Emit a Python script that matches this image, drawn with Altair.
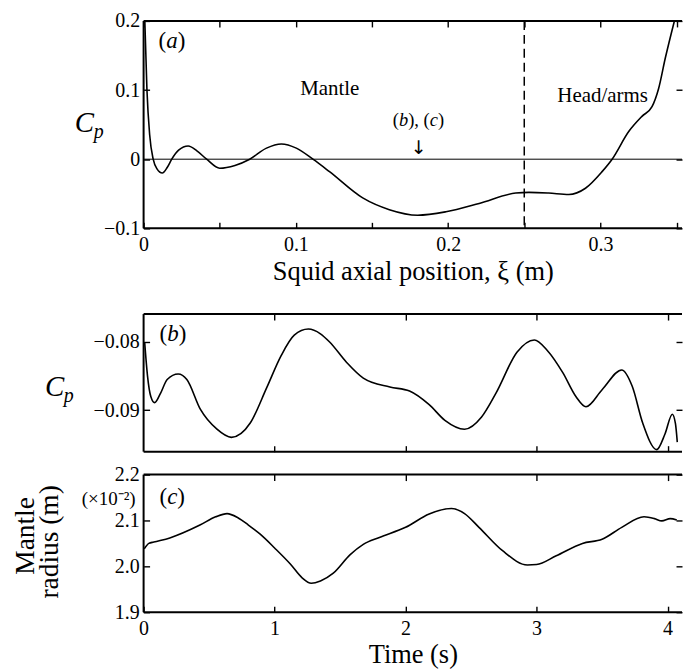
import altair as alt
import pandas as pd

SERIF = "Liberation Serif"

# ---------------- data ----------------
# (a) pressure coefficient along the body
xi_a = [0.0008, 0.0022, 0.0040, 0.0063, 0.0088, 0.0123, 0.0155, 0.0185, 0.0230,
        0.0293, 0.0350, 0.0414, 0.0500, 0.0600, 0.0697, 0.0807, 0.0905, 0.1003,
        0.1112, 0.1221, 0.1439, 0.1614, 0.1800, 0.1986, 0.2204, 0.2444, 0.2531,
        0.2660, 0.2793, 0.2902, 0.3011, 0.3077, 0.3186, 0.3273, 0.3339, 0.3382,
        0.3426, 0.3486]
cp_a = [0.200, 0.100, 0.035, 0.000, -0.014, -0.020, -0.012, 0.000, 0.013,
        0.019, 0.012, 0.000, -0.013, -0.009, 0.000, 0.016, 0.022, 0.016,
        0.000, -0.018, -0.056, -0.073, -0.081, -0.076, -0.064, -0.049, -0.048,
        -0.049, -0.051, -0.042, -0.018, 0.000, 0.040, 0.062, 0.076, 0.102,
        0.146, 0.200]

# (b) pressure coefficient versus time
time_b = [0.008, 0.030, 0.055, 0.084, 0.130, 0.180, 0.264, 0.330, 0.434, 0.560,
          0.670, 0.814, 0.940, 1.050, 1.150, 1.258, 1.350, 1.420, 1.550, 1.677,
          1.880, 2.030, 2.180, 2.300, 2.450, 2.580, 2.690, 2.850, 2.983, 3.080,
          3.200, 3.300, 3.377, 3.500, 3.650, 3.730, 3.810, 3.917, 3.980, 4.036,
          4.060, 4.074]
cp_b = [-0.0800, -0.0850, -0.0880, -0.0889, -0.0875, -0.0855, -0.0847, -0.0855,
        -0.0899, -0.0928, -0.0940, -0.0919, -0.0867, -0.0820, -0.0790, -0.0781,
        -0.0788, -0.0800, -0.0830, -0.0853, -0.0866, -0.0872, -0.0892, -0.0915,
        -0.0928, -0.0910, -0.0875, -0.0815, -0.0797, -0.0812, -0.0845, -0.0880,
        -0.0895, -0.0870, -0.0841, -0.0865, -0.0919, -0.0958, -0.0935, -0.0906,
        -0.0920, -0.0947]

# (c) mantle radius (x 10^-2 m) versus time
time_c = [0.005, 0.040, 0.078, 0.200, 0.430, 0.550, 0.637, 0.720, 0.800, 0.890,
          1.000, 1.120, 1.210, 1.280, 1.350, 1.448, 1.575, 1.677, 1.800, 2.000,
          2.180, 2.350, 2.450, 2.560, 2.740, 2.930, 3.000, 3.150, 3.350, 3.500,
          3.650, 3.820, 3.900, 3.956, 4.020, 4.070]
radius_c = [2.038, 2.050, 2.053, 2.062, 2.090, 2.108, 2.115, 2.106, 2.090, 2.070,
            2.040, 2.005, 1.975, 1.963, 1.968, 1.985, 2.025, 2.048, 2.063, 2.085,
            2.114, 2.126, 2.115, 2.085, 2.034, 2.003, 2.004, 2.023, 2.050, 2.059,
            2.085, 2.108, 2.104, 2.099, 2.104, 2.101]

x_ticks_a = [0, 0.05, 0.1, 0.15, 0.2, 0.25, 0.3, 0.35]
y_ticks_a = [-0.1, 0, 0.1, 0.2]
t_ticks_top = [1, 2, 3, 4]
t_ticks_c = [0, 1, 2, 3, 4]
y_ticks_b = [-0.09, -0.08]
y_ticks_c = [1.9, 2.0, 2.1, 2.2]
boundary_xi = [0.25]
zero_cp = [0.0]

W = 540
H_A, H_BC = 208, 138
LBL = 20
TTL = 26.5

ONE = alt.Data(values=[{"k": 0}])

xs_a = alt.Scale(domain=[0, 0.3536], nice=False, zero=False)
ys_a = alt.Scale(domain=[-0.1, 0.2], nice=False, zero=False)
xs_t = alt.Scale(domain=[0, 4.110], nice=False, zero=False)
ys_b = alt.Scale(domain=[-0.0961, -0.0759], nice=False, zero=False)
ys_c = alt.Scale(domain=[1.9, 2.2], nice=False, zero=False)


def axis(orient, values, labels=True, **kw):
    base = dict(orient=orient, values=values, offset=-6, tickSize=6, tickWidth=1.4,
                tickColor="black", domain=False, grid=False, labels=labels,
                labelFont=SERIF, labelFontSize=LBL, labelColor="black",
                labelFlush=False, labelOverlap=False, minExtent=0, title=None)
    base.update(kw)
    return alt.Axis(**base)


def frame():
    r = dict(color="black", strokeWidth=2)
    return [
        alt.Chart(ONE).mark_rule(**r).encode(x=alt.value(0), x2=alt.value("width"), y=alt.value(0)),
        alt.Chart(ONE).mark_rule(**r).encode(x=alt.value(0), x2=alt.value("width"), y=alt.value("height")),
        alt.Chart(ONE).mark_rule(**r).encode(x=alt.value(0), y=alt.value(0), y2=alt.value("height")),
    ]


def spacer(x, y, y2):
    return alt.Chart(ONE).mark_rule(opacity=0).encode(
        x=alt.value(x), y=alt.value(y), y2=alt.value(y2))


WID = {"(": .333, ")": .333, ",": .25, " ": .25, "a": .5, "b": .5, "c": .444}


def pieces(parts, x0, y, size):
    out = []
    x = x0
    for txt, ital in parts:
        out.append(alt.Chart(ONE).mark_text(
            text=txt, align="left", baseline="alphabetic", font=SERIF, fontSize=size,
            fontStyle="italic" if ital else "normal", color="black"
        ).encode(x=alt.value(x), y=alt.value(y)))
        x += sum(WID[c] for c in txt) * size
    return out


def label(txt, x, y, size, **kw):
    props = dict(text=txt, align="left", baseline="alphabetic", font=SERIF,
                 fontSize=size, color="black")
    props.update(kw)
    return alt.Chart(ONE).mark_text(**props).encode(x=alt.value(x), y=alt.value(y))


def cp_label(xc, yb):
    return [label("C", xc, yb, 29, fontStyle="italic"),
            label("p", xc + 19, yb + 6.5, 20, fontStyle="italic")]


# ---------------- panel (a) ----------------
df_a = pd.DataFrame({"xi": xi_a, "cp": cp_a})
line_a = alt.Chart(df_a).mark_line(color="black", strokeWidth=1.6, interpolate="monotone", clip=True).encode(
    x=alt.X("xi:Q", scale=xs_a, axis=axis(
        "bottom", x_ticks_a, labelPadding=6,
        labelExpr="abs(datum.value*10 - round(datum.value*10)) < 0.001 ? format(datum.value, '.1~f') : ''",
        title="Squid axial position, ξ (m)", titleFont=SERIF, titleFontSize=TTL,
        titleFontWeight="normal", titleColor="black", titlePadding=4)),
    y=alt.Y("cp:Q", scale=ys_a, axis=axis("left", y_ticks_a, format=".1~f", labelPadding=4)),
)
mirror_a = alt.Chart(df_a).mark_line(opacity=0).encode(
    x=alt.X("xi:Q", scale=xs_a, axis=axis("top", x_ticks_a, labels=False)),
    y=alt.Y("cp:Q", scale=ys_a, axis=axis("right", y_ticks_a, labels=False)),
)
zero_a = alt.Chart(pd.DataFrame({"c0": zero_cp})).mark_rule(color="black", strokeWidth=1).encode(
    y=alt.Y("c0:Q", scale=ys_a, axis=None))
dash_a = alt.Chart(pd.DataFrame({"xb": boundary_xi})).mark_rule(color="black", strokeWidth=1.5, strokeDash=[9, 5]).encode(
    x=alt.X("xb:Q", scale=xs_a, axis=None))

texts_a = (pieces([("(", False), ("a", True), (")", False)], 15, 27, 23)
           + [label("Mantle", 157, 74, 21), label("Head/arms", 415, 81, 21)]
           + pieces([("(", False), ("b", True), ("), (", False), ("c", True), (")", False)], 250, 105, 18.5)
           + [label("↓", 276, 127, 19, align="center", baseline="middle", font="DejaVu Sans")]
           + cp_label(-69, 111))

pa = alt.layer(line_a, mirror_a, zero_a, dash_a, *frame(), *texts_a,
               spacer(0, -11, 0), spacer(0, 200, 282)).resolve_axis(
    x="independent", y="independent").properties(width=W, height=H_A)

# ---------------- panel (b) ----------------
df_b = pd.DataFrame({"t": time_b, "cp": cp_b})
line_b = alt.Chart(df_b).mark_line(color="black", strokeWidth=1.6, interpolate="monotone", clip=True).encode(
    x=alt.X("t:Q", scale=xs_t, axis=axis("bottom", t_ticks_top, labels=False)),
    y=alt.Y("cp:Q", scale=ys_b, axis=axis("left", y_ticks_b, format=".2f", labelPadding=4.5)),
)
mirror_b = alt.Chart(df_b).mark_line(opacity=0).encode(
    x=alt.X("t:Q", scale=xs_t, axis=axis("top", t_ticks_top, labels=False)),
    y=alt.Y("cp:Q", scale=ys_b, axis=axis("right", y_ticks_b, labels=False)),
)
texts_b = pieces([("(", False), ("b", True), (")", False)], 16, 27, 23) + cp_label(-99, 82)
pb = alt.layer(line_b, mirror_b, *frame(), *texts_b, spacer(0, -2, 0), spacer(0, 100, 140)).resolve_axis(
    x="independent", y="independent").properties(width=W, height=H_BC)

# ---------------- panel (c) ----------------
df_c = pd.DataFrame({"t": time_c, "r": radius_c})
line_c = alt.Chart(df_c).mark_line(color="black", strokeWidth=1.6, interpolate="monotone", clip=True).encode(
    x=alt.X("t:Q", scale=xs_t, axis=axis(
        "bottom", t_ticks_c, format="d", labelPadding=6,
        title="Time (s)", titleFont=SERIF, titleFontSize=TTL, titleFontWeight="normal",
        titleColor="black", titlePadding=3)),
    y=alt.Y("r:Q", scale=ys_c, axis=axis("left", y_ticks_c, format=".1f", labelPadding=4.5)),
)
mirror_c = alt.Chart(df_c).mark_line(opacity=0).encode(
    x=alt.X("t:Q", scale=xs_t, axis=axis("top", t_ticks_top, labels=False)),
    y=alt.Y("r:Q", scale=ys_c, axis=axis("right", y_ticks_c, labels=False)),
)
texts_c = (pieces([("(", False), ("c", True), (")", False)], 16, 29, 23)
           + [label("Mantle", -110, 61.5, 27.5, angle=270, align="center"),
              label("radius (m)", -86, 67.5, 27.5, angle=270, align="center"),
              label("(×10⁻²)", -35, 24, 19, align="center", baseline="middle")])
pc = alt.layer(line_c, mirror_c, *frame(), *texts_c, spacer(-135, -11, 0)).resolve_axis(
    x="independent", y="independent").properties(width=W, height=H_BC)

chart = alt.vconcat(pa, pb, pc, spacing=8).properties(
    padding={"left": 0, "top": 0, "right": 0, "bottom": 0},
    background="white",
).configure_view(stroke="transparent")

chart.save("out.html", embed_options={"renderer": "svg", "actions": False})
